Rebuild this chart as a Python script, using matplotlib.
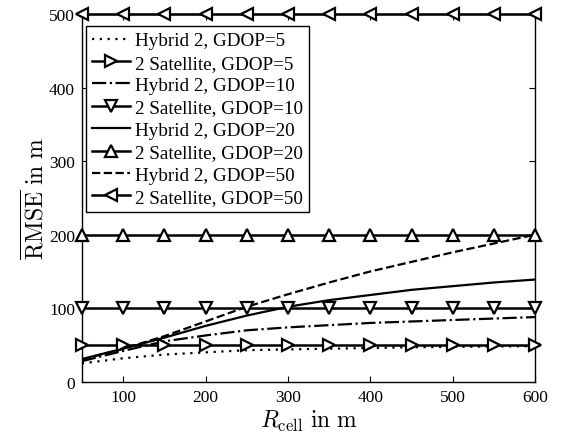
import matplotlib
matplotlib.use("Agg")
import matplotlib.pyplot as plt

plt.rcParams['font.family'] = ['Liberation Serif', 'DejaVu Serif']
plt.rcParams['mathtext.fontset'] = 'cm'

r_cell = [50, 100, 150, 200, 250, 300, 350, 400, 450, 500, 550, 600]
hybrid_g5 = [25, 32, 37, 40, 43, 44, 45, 46, 47, 47.5, 48, 48.5]
hybrid_g10 = [28, 42, 55, 63, 70, 74, 77, 80, 82, 84, 86, 88]
hybrid_g20 = [31, 45, 60, 76, 90, 102, 111, 118, 125, 130, 135, 139]
hybrid_g50 = [30, 45, 62, 82, 102, 119, 135, 150, 163, 176, 188, 200]
sat_levels = [50, 100, 200, 500]
gdops = [5, 10, 20, 50]
xticks = [100, 200, 300, 400, 500, 600]
yticks = [0, 100, 200, 300, 400, 500]

fig = plt.figure(figsize=(5.61, 4.39), dpi=100)
ax = fig.add_axes([0.146, 0.128, 0.808, 0.838])

hybrids = [hybrid_g5, hybrid_g10, hybrid_g20, hybrid_g50]
styles = [(0, (1, 2.5)), '-.', '-', '--']
markers = ['>', 'v', '^', '<']
for h, ls, g, lvl, mk in zip(hybrids, styles, gdops, sat_levels, markers):
    ax.plot(r_cell, h, color='black', linestyle=ls, linewidth=1.6,
            label=f'Hybrid 2, GDOP={g}')
    ax.plot(r_cell, [lvl] * len(r_cell), color='black', linestyle='-', linewidth=1.8,
            marker=mk, markersize=9, markerfacecolor='white', markeredgewidth=1.6,
            clip_on=False, zorder=3, label=f'2 Satellite, GDOP={g}')

ax.set_xlim(50, 600)
ax.set_ylim(0, 500)
ax.set_xticks(xticks)
ax.set_yticks(yticks)
ax.tick_params(direction='in', top=True, right=True, labelsize=12.5, pad=5, length=4)
for s in ax.spines.values():
    s.set_linewidth(1.0)

ax.set_xlabel(r'$R_{\mathrm{cell}}\ \mathrm{in\ m}$', fontsize=17, labelpad=2)
ax.set_ylabel(r'$\overline{\mathrm{RMSE}}\ \mathrm{in\ m}$', fontsize=17, labelpad=0)

leg = ax.legend(loc='upper left', bbox_to_anchor=(0.009, 0.967), borderaxespad=0,
                fontsize=13.8, frameon=True, fancybox=False, edgecolor='black',
                framealpha=1, handlelength=2.0, handletextpad=0.25,
                labelspacing=0.26, borderpad=0.3)
leg.get_frame().set_linewidth(1.0)

fig.savefig('out.png', dpi=100)
